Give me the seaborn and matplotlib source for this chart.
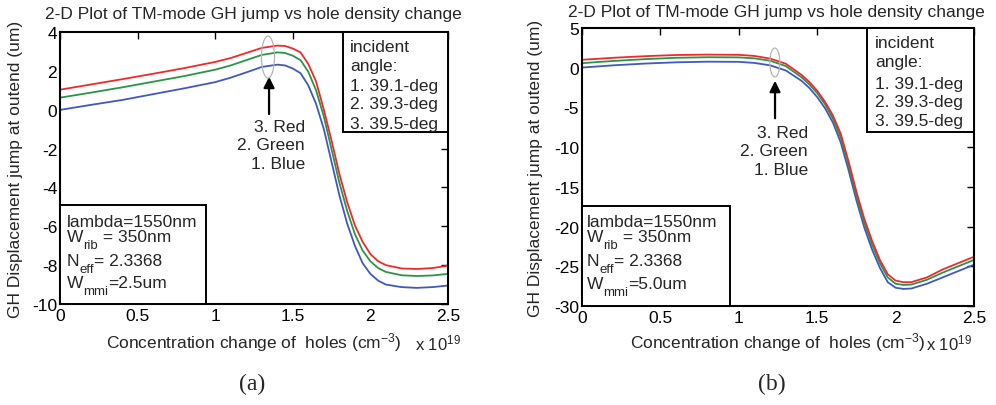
import matplotlib as mpl
mpl.use("Agg")
import matplotlib.pyplot as plt
from matplotlib.patches import Ellipse, Rectangle
import seaborn as sns
import pandas as pd
import numpy as np

# hole concentration change (x 1e19 cm^-3)
conc = [0, 0.2, 0.4, 0.6, 0.8, 1.0, 1.1, 1.2, 1.3, 1.4, 1.45, 1.5, 1.55, 1.6, 1.65,
        1.7, 1.75, 1.8, 1.85, 1.9, 1.95, 2.0, 2.05, 2.1, 2.2, 2.3, 2.4, 2.5]

# panel (a): W_mmi = 2.5um
a_blue = [-0.01, 0.25, 0.50, 0.80, 1.10, 1.42, 1.65, 1.92, 2.20, 2.32, 2.28, 2.12, 1.88, 1.25, 0.30,
          -1.0, -2.7, -4.4, -5.85, -7.0, -7.9, -8.45, -8.8, -9.0, -9.13, -9.17, -9.13, -9.05]
a_green = [0.62, 0.88, 1.15, 1.44, 1.73, 2.06, 2.28, 2.55, 2.82, 2.95, 2.92, 2.78, 2.55, 1.95, 1.0,
           -0.35, -2.05, -3.75, -5.2, -6.4, -7.25, -7.8, -8.15, -8.35, -8.52, -8.56, -8.53, -8.45]
a_red = [1.03, 1.30, 1.57, 1.85, 2.14, 2.46, 2.66, 2.92, 3.18, 3.30, 3.28, 3.15, 2.95, 2.35, 1.45,
         0.0, -1.6, -3.3, -4.75, -5.95, -6.8, -7.43, -7.8, -8.0, -8.17, -8.2, -8.15, -8.03]

# panel (b): W_mmi = 5.0um
b_blue = [0.02, 0.30, 0.52, 0.68, 0.76, 0.74, 0.60, 0.30, -0.35, -1.65, -2.55, -3.7, -5.1, -6.9, -9.4,
          -12.9, -16.7, -20.1, -22.9, -25.2, -27.0, -27.7, -27.85, -27.8, -27.2, -26.4, -25.6, -24.8]
b_green = [0.57, 0.85, 1.08, 1.25, 1.32, 1.30, 1.18, 0.88, 0.20, -1.2, -2.1, -3.2, -4.6, -6.4, -8.8,
           -12.3, -16.1, -19.5, -22.3, -24.6, -26.4, -27.2, -27.35, -27.3, -26.7, -25.8, -25.0, -24.2]
b_red = [1.00, 1.25, 1.45, 1.60, 1.65, 1.62, 1.48, 1.15, 0.50, -0.9, -1.8, -2.9, -4.3, -6.0, -8.3,
         -11.8, -15.6, -19.0, -21.8, -24.2, -26.0, -26.8, -27.0, -27.0, -26.4, -25.4, -24.6, -23.8]

angles = ['1. 39.1-deg', '2. 39.3-deg', '3. 39.5-deg']
palette = {'1. 39.1-deg': '#4158c4', '2. 39.3-deg': '#2a9449', '3. 39.5-deg': '#f02a2a'}

sns.set_style("white")
plt.rcParams['font.family'] = ['Liberation Sans', 'DejaVu Sans']
plt.rcParams['mathtext.fontset'] = 'custom'
plt.rcParams['mathtext.rm'] = 'Liberation Sans'
plt.rcParams['mathtext.it'] = 'Liberation Sans:italic'
plt.rcParams['axes.unicode_minus'] = False

W, H = 996, 406
fig = plt.figure(figsize=(W / 100, H / 100), dpi=100)


def fx(px):
    return px / W


def fy(py):
    return 1 - py / H


def make_df(blue, green, red):
    frames = []
    for ang, vals in zip(angles, [blue, green, red]):
        frames.append(pd.DataFrame({'conc': conc, 'gh': vals, 'angle': ang}))
    return pd.concat(frames, ignore_index=True)


def sub_line(ax, px, py, main, sub, rest, fs=12.5, sfs=9.5):
    t1 = fig.text(fx(px), fy(py), main, fontsize=fs, va='baseline', ha='left', zorder=5)
    t2 = ax.annotate(sub, xy=(1, 0), xycoords=t1, xytext=(0, -3), textcoords='offset points',
                     fontsize=sfs, va='baseline', ha='left', annotation_clip=False, zorder=5)
    ax.annotate(rest, xy=(1, 0), xycoords=(t2, t1), fontsize=fs, va='bottom', ha='left',
                annotation_clip=False, zorder=5)


panels = [
    dict(rect=[60, 33, 448, 305], data=(a_blue, a_green, a_red), ylim=(-10, 4), yticks=np.arange(-10, 5, 2),
         ylab_x=-0.095, title_x=253, title_y=15, mmi='=2.5um',
         ell=(1.34, 2.71, 0.084, 2.16), arrow=(1.347, 1.84, -0.37),
         names_x=305, names_y=[127, 146, 165],
         inc_box=(343, 133), inc_x=350, inc_y=[47, 67, 86, 105, 124],
         lam_box=(206, 206), lam_x=67, lam_y=[227, 242, 266, 288],
         off_x=415, panel='(a)', panel_x=252),
    dict(rect=[582, 29, 974, 307], data=(b_blue, b_green, b_red), ylim=(-30, 5), yticks=np.arange(-30, 6, 5),
         ylab_x=-0.10, title_x=776, title_y=13, mmi='=5.0um',
         ell=(1.23, 0.655, 0.064, 3.65), arrow=(1.231, -1.3, -6.71),
         names_x=808, names_y=[133, 152, 171],
         inc_box=(867, 133), inc_x=875, inc_y=[43, 63, 84, 103, 122],
         lam_box=(730, 207), lam_x=587, lam_y=[227, 242, 266, 289],
         off_x=926, panel='(b)', panel_x=772),
]

for p in panels:
    l, t, r, b = p['rect']
    ax = fig.add_axes([fx(l), fy(b), (r - l) / W, (b - t) / H])
    df = make_df(*p['data'])
    sns.lineplot(data=df, x='conc', y='gh', hue='angle', hue_order=angles, palette=palette,
                 legend=False, ax=ax, lw=1.3)
    ax.set_xlim(0, 2.5)
    ax.set_ylim(*p['ylim'])
    ax.set_xticks([0, 0.5, 1, 1.5, 2, 2.5])
    ax.set_xticklabels(['0', '0.5', '1', '1.5', '2', '2.5'])
    ax.set_yticks(p['yticks'])
    ax.tick_params(direction='in', top=True, right=True, length=5, width=1.0,
                   labelsize=12.5, colors='black', pad=3)
    ax.tick_params(axis='y', pad=2)
    for s in ax.spines.values():
        s.set_color('black')
        s.set_linewidth(1.5)

    ax.set_ylabel('GH Displacement jump at outend (um)', fontsize=12.5)
    ax.yaxis.set_label_coords(p['ylab_x'], 0.5)
    ax.set_xlabel('Concentration change of  holes (cm$^{-3}$)', fontsize=12.5, va='baseline')
    ax.xaxis.set_label_coords(0.5, (b - 348) / (b - t))
    fig.text(fx(p['off_x']), fy(350), 'x 10$^{19}$', fontsize=12, va='baseline', ha='left')

    fig.text(fx(p['title_x']), fy(p['title_y']), '2-D Plot of TM-mode GH jump vs hole density change',
             fontsize=12.5, ha='center', va='center')

    # ellipse + arrow pointing at the peak
    ex, ey, ew, eh = p['ell']
    ax.add_patch(Ellipse((ex, ey), ew, eh, fill=False, edgecolor='#b4b4b4', lw=0.9, zorder=4))
    axx, tip, tail = p['arrow']
    ax.annotate('', xy=(axx, tip), xytext=(axx, tail),
                arrowprops=dict(arrowstyle='-|>', color='black', lw=1.6, mutation_scale=16))
    for txt, yy in zip(['3. Red', '2. Green', '1. Blue'], p['names_y']):
        fig.text(fx(p['names_x']), fy(yy), txt, fontsize=12.5, ha='right', va='center')

    # incident angle box
    bx, bb = p['inc_box']
    ax.add_patch(Rectangle((fx(bx), fy(bb)), fx(r) - fx(bx), fy(t) - fy(bb), transform=fig.transFigure,
                           facecolor='white', edgecolor='black', lw=1.4, zorder=3))
    for txt, yy in zip(['incident', 'angle:'] + angles, p['inc_y']):
        fig.text(fx(p['inc_x']), fy(yy), txt, fontsize=12.5, ha='left', va='center', zorder=5)

    # waveguide parameter box
    rx, rt = p['lam_box']
    ax.add_patch(Rectangle((fx(l), fy(b)), fx(rx) - fx(l), fy(rt) - fy(b), transform=fig.transFigure,
                           facecolor='white', edgecolor='black', lw=1.4, zorder=3))
    ly = p['lam_y']
    fig.text(fx(p['lam_x']), fy(ly[0]), 'lambda=1550nm', fontsize=12.5, va='baseline', ha='left', zorder=5)
    sub_line(ax, p['lam_x'], ly[1], 'W', 'rib', ' = 350nm')
    sub_line(ax, p['lam_x'], ly[2], 'N', 'eff', '= 2.3368')
    sub_line(ax, p['lam_x'], ly[3], 'W', 'mmi', p['mmi'])

    fig.text(fx(p['panel_x']), fy(384), p['panel'], fontsize=17, ha='center', va='center',
             family=['Liberation Serif', 'DejaVu Serif'])

fig.savefig('out.png', dpi=100)
